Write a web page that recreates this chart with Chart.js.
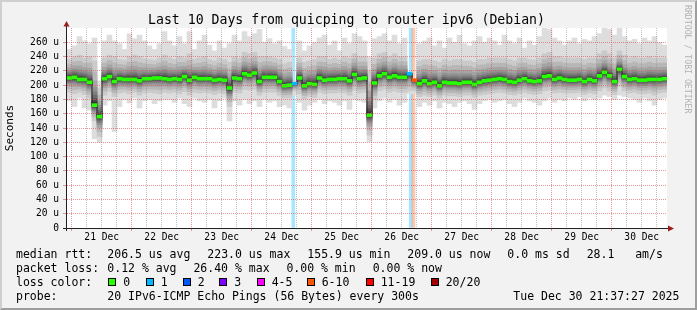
<!DOCTYPE html>
<html>
<head>
<meta charset="utf-8">
<script src="https://cdn.jsdelivr.net/npm/chart.js@4.4.1/dist/chart.umd.min.js"></script>
<style>
  body { margin: 0; background: #fff; }
  #wrap { position: relative; width: 697px; height: 310px; background: #f2f2f2; overflow: hidden; }
  #c { position: absolute; left: 0; top: 0; display: block; }
  #frame { position: absolute; left: 0; top: 0; width: 697px; height: 310px; box-sizing: border-box;
           border-top: 2px solid #cfcfcf; border-left: 2px solid #cfcfcf;
           border-right: 2px solid #9e9e9e; border-bottom: 2px solid #9e9e9e; pointer-events: none; }
  .txt { position: absolute; font-family: "DejaVu Sans Mono", monospace; color: #000; white-space: pre; }
  #title { left: -2px; top: 11.5px; width: 697px; text-align: center; font-size: 13.2px; line-height: 16px; }
  #wm { left: 683px; top: 5px; writing-mode: vertical-rl; font-size: 8.2px; line-height: 9px; color: #b2b2b2; }
  .leg { font-size: 11.5px; line-height: 14px; }
  .sw { position: absolute; top: 278px; width: 8px; height: 8px; box-sizing: border-box; border: 1px solid #000; }
</style>
</head>
<body>
<div id="wrap">
  <canvas id="c" width="697" height="310"></canvas>
  <div class="txt" id="title">Last 10 Days from quicping to router ipv6 (Debian)</div>
  <div class="txt" id="wm">RRDTOOL / TOBI OETIKER</div>

  <div class="txt leg" style="left:16px;top:247px">median rtt:</div>
  <div class="txt leg" style="left:107.3px;top:247px">206.5 us avg</div>
  <div class="txt leg" style="left:207.3px;top:247px">223.0 us max</div>
  <div class="txt leg" style="left:307.3px;top:247px">155.9 us min</div>
  <div class="txt leg" style="left:407.3px;top:247px">209.0 us now</div>
  <div class="txt leg" style="left:507.3px;top:247px">0.0 ms sd</div>
  <div class="txt leg" style="left:586.7px;top:247px">28.1   am/s</div>

  <div class="txt leg" style="left:16px;top:261px">packet loss:</div>
  <div class="txt leg" style="left:107.3px;top:261px">0.12 % avg</div>
  <div class="txt leg" style="left:193.4px;top:261px">26.40 % max</div>
  <div class="txt leg" style="left:286.4px;top:261px">0.00 % min</div>
  <div class="txt leg" style="left:372.7px;top:261px">0.00 % now</div>

  <div class="txt leg" style="left:16px;top:275px">loss color:</div>
  <div id="lossLegend"></div>

  <div class="txt leg" style="left:16px;top:289px">probe:</div>
  <div class="txt leg" style="left:107.3px;top:289px">20 IPv6-ICMP Echo Pings (56 Bytes) every 300s</div>
  <div class="txt leg" style="left:513.3px;top:289px">Tue Dec 30 21:37:27 2025</div>
  <div id="frame"></div>
</div>
<script>
// x axis runs in hours from 21 Dec 00:00; graph covers 20 Dec ~22:07 .. 30 Dec ~22:07
const startHour = -1.88;
const endHour = 238.12;
const dayLabels = ['21 Dec', '22 Dec', '23 Dec', '24 Dec', '25 Dec', '26 Dec', '27 Dec', '28 Dec', '29 Dec', '30 Dec'];

// one value per 2 hour column (120 columns), microseconds
const median = [
  210, 211, 208, 208, 204, 172, 156, 209, 212, 205,
  209, 208, 208, 208, 206, 209, 209, 210, 210, 209,
  208, 209, 208, 212, 207, 211, 209, 209, 209, 207,
  208, 207, 196, 210, 209, 216, 214, 217, 205, 211,
  211, 211, 205, 199, 200, 202, 210, 199, 202, 201,
  210, 207, 208, 208, 209, 209, 206, 215, 209, 210,
  158, 203, 213, 216, 211, 213, 211, 211, 216, 207,
  202, 206, 202, 204, 199, 204, 203, 203, 202, 204,
  204, 201, 204, 206, 207, 208, 209, 208, 205, 204,
  207, 209, 206, 205, 206, 212, 213, 208, 210, 208,
  207, 207, 208, 205, 208, 206, 213, 218, 213, 205,
  222, 212, 208, 209, 207, 207, 208, 208, 208, 209
];
const pingMax = [
  250, 255, 268, 262, 258, 266, 206, 262, 270, 262,
  258, 250, 272, 265, 270, 262, 255, 250, 258, 275,
  262, 255, 268, 258, 275, 250, 262, 270, 256, 248,
  262, 252, 258, 270, 262, 275, 268, 272, 278, 260,
  265, 258, 262, 254, 250, 206, 262, 248, 255, 260,
  266, 270, 256, 262, 248, 266, 258, 272, 268, 262,
  240, 265, 268, 272, 262, 270, 258, 266, 218, 209,
  258, 262, 266, 255, 262, 252, 266, 260, 270, 258,
  255, 262, 268, 260, 266, 262, 256, 270, 262, 258,
  266, 252, 262, 256, 268, 280, 278, 266, 262, 256,
  262, 266, 258, 264, 262, 268, 272, 280, 278, 270,
  280, 268, 262, 264, 258, 266, 262, 268, 260, 256
];
const pingHigh = [
  236, 240, 242, 238, 240, 234, 196, 238, 242, 240,
  236, 235, 240, 242, 240, 237, 236, 235, 238, 242,
  238, 236, 240, 238, 244, 236, 238, 240, 236, 234,
  238, 236, 232, 240, 238, 246, 244, 246, 240, 240,
  240, 238, 236, 230, 232, 204, 238, 232, 234, 236,
  240, 240, 236, 238, 236, 240, 238, 244, 240, 240,
  220, 238, 244, 246, 240, 244, 240, 240, 217, 208,
  234, 236, 236, 234, 232, 236, 234, 236, 236, 234,
  234, 232, 236, 236, 238, 238, 238, 238, 236, 234,
  238, 238, 236, 235, 238, 244, 246, 240, 240, 238,
  238, 238, 238, 236, 238, 238, 244, 248, 244, 238,
  248, 242, 238, 240, 238, 238, 240, 238, 238, 238
];
const pingLow = [
  190, 188, 190, 187, 182, 150, 128, 186, 191, 184,
  189, 190, 188, 190, 186, 189, 190, 189, 188, 190,
  189, 190, 188, 191, 186, 190, 189, 190, 189, 187,
  189, 188, 170, 190, 189, 194, 193, 194, 186, 190,
  190, 190, 186, 182, 182, 192, 188, 181, 184, 183,
  190, 188, 189, 189, 190, 189, 186, 193, 189, 190,
  130, 180, 192, 194, 190, 192, 190, 190, 192, 192,
  184, 186, 184, 186, 182, 186, 185, 185, 184, 186,
  186, 183, 186, 187, 188, 189, 190, 189, 187, 186,
  188, 190, 188, 187, 188, 192, 193, 189, 190, 189,
  189, 189, 190, 187, 189, 188, 192, 196, 192, 187,
  198, 192, 189, 190, 188, 188, 189, 186, 189, 190
];
const pingMin = [
  178, 170, 182, 168, 165, 125, 120, 172, 178, 135,
  170, 180, 175, 182, 168, 178, 180, 174, 178, 180,
  180, 176, 182, 174, 170, 182, 178, 176, 180, 168,
  178, 182, 150, 178, 172, 180, 174, 178, 170, 180,
  176, 178, 170, 172, 168, 186, 176, 165, 172, 176,
  180, 174, 178, 176, 172, 178, 166, 180, 178, 176,
  121, 168, 178, 182, 176, 180, 172, 176, 188, 188,
  170, 176, 172, 178, 168, 176, 174, 170, 176, 178,
  174, 166, 174, 178, 180, 176, 178, 180, 174, 170,
  176, 182, 178, 176, 172, 178, 182, 176, 180, 178,
  182, 180, 184, 178, 182, 180, 182, 186, 184, 180,
  186, 184, 182, 180, 176, 182, 178, 172, 180, 182
];

// columns with lost pings, and the loss bars behind them (hours)
const lossCols = [45, 68, 69];
const lossPings = [1, 1, 7];
const lossBarHours = [88.64, 135.6, 136.72];

const lossLevels = ['0', '1', '2', '3', '4-5', '6-10', '11-19', '20/20'];
const lossColors = ['#26ff00', '#00b8ff', '#0059ff', '#7e00ff', '#ff00ff', '#ff5500', '#ff0000', '#a10000'];
const lossBgColors = ['', 'rgba(0,184,255,0.35)', 'rgba(0,89,255,0.35)', 'rgba(126,0,255,0.35)',
  'rgba(255,0,255,0.35)', 'rgba(255,85,0,0.32)', 'rgba(255,0,0,0.35)', 'rgba(161,0,0,0.35)'];

const smokeShades = ['#dddddd', '#cacaca', '#b7b7b7', '#a4a4a4', '#919191', '#7e7e7e', '#6b6b6b', '#585858', '#454545', '#323232'];
// how far each inner smoke layer is pulled from the high/low pings toward the median
const smokePull = [0, 0.25, 0.45, 0.6, 0.7, 0.78, 0.85, 0.9, 0.94];

const GRID = 'rgba(143,143,143,0.55)';
const MGRID = 'rgba(222,79,79,0.6)';

function lossIndex(p) {
  if (p <= 3) return p;
  if (p <= 5) return 4;
  if (p <= 10) return 5;
  if (p <= 19) return 6;
  return 7;
}

// legend swatches
const swatchX = [108.3, 145.7, 182.7, 219.3, 256.7, 306.7, 365.7, 430.7];
const legBox = document.getElementById('lossLegend');
lossLevels.forEach((lab, i) => {
  const s = document.createElement('span');
  s.className = 'sw';
  s.style.left = swatchX[i] + 'px';
  s.style.background = lossColors[i];
  legBox.appendChild(s);
  const t = document.createElement('div');
  t.className = 'txt leg';
  t.style.left = (swatchX[i] + 15) + 'px';
  t.style.top = '275px';
  t.textContent = lab;
  legBox.appendChild(t);
});

const colHours = median.map((_, i) => startHour + 2 * i + 1);
const xTicks = Array.from({ length: 40 }, (_, i) => i * 6);
const yTicks = Array.from({ length: 28 }, (_, i) => i * 10);

const datasets = [];

// median bar, coloured by loss
const medColors = median.map(() => lossColors[0]);
lossCols.forEach((c, i) => { medColors[c] = lossColors[lossIndex(lossPings[i])]; });
datasets.push({
  type: 'bar', order: 0, grouped: false, barThickness: 5, borderWidth: 0,
  backgroundColor: medColors,
  data: median.map((m, i) => ({ x: colHours[i], y: [m - 2.1, m + 2.1] }))
});
datasets.push({
  type: 'line', order: 1, stepped: 'middle', borderColor: '#222', borderWidth: 1,
  pointRadius: 0, fill: false,
  data: median.map((m, i) => ({ x: colHours[i], y: m }))
});

// smoke layers, outer light to inner dark
smokeShades.forEach((shade, k) => {
  const data = median.map((m, i) => {
    if (k === 0) return { x: colHours[i], y: [pingMin[i], pingMax[i]] };
    const f = smokePull[k - 1];
    const lo = pingLow[i] + (m - pingLow[i]) * f;
    const hi = pingHigh[i] - (pingHigh[i] - m) * f;
    return { x: colHours[i], y: [lo, hi] };
  });
  datasets.push({
    type: 'bar', order: 12 - k, grouped: false, barThickness: 5, borderWidth: 0,
    backgroundColor: shade, data
  });
});

// loss background bars
datasets.push({
  type: 'bar', order: 20, grouped: false, barThickness: 3, borderWidth: 0,
  backgroundColor: lossPings.map(p => lossBgColors[lossIndex(p)]),
  data: lossBarHours.map(h => ({ x: h, y: [0, 280] }))
});

const plotBg = {
  id: 'plotBg',
  beforeDraw(chart) {
    const { ctx, chartArea: a } = chart;
    ctx.save();
    ctx.fillStyle = '#ffffff';
    ctx.fillRect(a.left, a.top, a.right - a.left, a.bottom - a.top);
    ctx.restore();
  }
};

const axisArrows = {
  id: 'axisArrows',
  afterDraw(chart) {
    const { ctx, chartArea: a } = chart;
    const yb = a.bottom + 0.5;
    const xl = a.left - 0.5;
    ctx.save();
    ctx.strokeStyle = '#202020';
    ctx.lineWidth = 1;
    ctx.beginPath();
    ctx.moveTo(a.left - 4, yb); ctx.lineTo(a.right + 2, yb);
    ctx.moveTo(xl, a.bottom + 3); ctx.lineTo(xl, a.top - 3);
    ctx.stroke();
    ctx.fillStyle = '#9c1c1c';
    ctx.beginPath();
    ctx.moveTo(a.right + 7, yb); ctx.lineTo(a.right + 1, yb - 3); ctx.lineTo(a.right + 1, yb + 3);
    ctx.closePath(); ctx.fill();
    ctx.beginPath();
    ctx.moveTo(xl, a.top - 7); ctx.lineTo(xl - 3, a.top - 1.5); ctx.lineTo(xl + 3, a.top - 1.5);
    ctx.closePath(); ctx.fill();
    ctx.restore();
  }
};

Chart.defaults.font.family = '"DejaVu Sans Mono", monospace';
Chart.defaults.color = '#000';

new Chart(document.getElementById('c'), {
  type: 'bar',
  data: { datasets },
  options: {
    responsive: false,
    animation: false,
    devicePixelRatio: 1,
    events: [],
    layout: { padding: { left: 0, right: 30, top: 28, bottom: 0 } },
    plugins: { legend: { display: false }, tooltip: { enabled: false }, title: { display: false } },
    scales: {
      x: {
        type: 'linear', min: startHour, max: endHour, offset: false,
        afterBuildTicks: s => { s.ticks = xTicks.map(v => ({ value: v })); },
        afterFit: s => { s.height = 82; },
        ticks: {
          autoSkip: false, maxRotation: 0, minRotation: 0, padding: 1,
          font: { size: 9.6 }, color: '#000',
          callback: v => (v % 24 === 12 ? dayLabels[(v - 12) / 24] : '')
        },
        grid: {
          z: 1, offset: false, lineWidth: 1, tickLength: 3,
          color: c => (c.tick && c.tick.value % 24 === 0 ? MGRID : GRID),
          tickColor: c => (c.tick && c.tick.value % 24 === 0 ? MGRID : 'rgba(0,0,0,0)')
        },
        border: { display: false, dash: [1, 1] }
      },
      y: {
        type: 'linear', min: 0, max: 280,
        afterBuildTicks: s => { s.ticks = yTicks.map(v => ({ value: v })); },
        afterFit: s => { s.width = 67; },
        ticks: {
          padding: 4, font: { size: 9.6 }, color: '#000',
          callback: v => (v % 20 ? '' : (v === 0 ? '0' : v + ' u'))
        },
        grid: {
          z: 1, lineWidth: 1, tickLength: 4,
          color: c => (!c.tick || c.tick.value === 0 ? 'rgba(0,0,0,0)' : (c.tick.value % 20 ? GRID : MGRID)),
          tickColor: c => (c.tick && c.tick.value % 20 === 0 ? MGRID : 'rgba(0,0,0,0)')
        },
        border: { display: false, dash: [1, 1] },
        title: { display: true, text: 'Seconds', font: { size: 11 }, color: '#000', padding: { top: 4, bottom: 0 } }
      }
    }
  },
  plugins: [plotBg, axisArrows]
});
</script>
</body>
</html>
